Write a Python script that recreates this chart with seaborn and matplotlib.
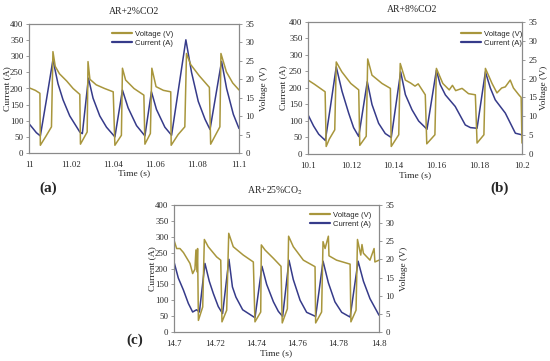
import matplotlib
matplotlib.use("Agg")
import matplotlib.pyplot as plt
import seaborn as sns
from matplotlib.lines import Line2D

# ---- panel (a): AR+2%CO2 ----
t_cur_a = [11.0, 11.0019, 11.0035, 11.0054, 11.0083, 11.0114, 11.0138, 11.0162, 11.0194, 11.0218,
           11.0242, 11.0254, 11.0283, 11.0305, 11.0337, 11.0369, 11.0409, 11.0445, 11.0472, 11.0512,
           11.0552, 11.0583, 11.0607, 11.0647, 11.0679, 11.0747, 11.0774, 11.0806, 11.0838, 11.0862,
           11.0917, 11.0941, 11.0973, 11.1]
cur_a = [91, 76, 63, 53, 165, 289, 215, 165, 115, 90,
         65, 60, 232, 170, 115, 80, 50, 195, 140, 85,
         53, 190, 135, 80, 55, 351, 250, 160, 105, 73,
         284, 200, 120, 76]
t_vol_a = [11.0, 11.003, 11.0052, 11.0054, 11.008, 11.0107, 11.0114, 11.0125, 11.0145, 11.018,
           11.021, 11.0242, 11.0245, 11.0277, 11.0281, 11.029, 11.032, 11.036, 11.0401, 11.0409,
           11.044, 11.0445, 11.046, 11.05, 11.0547, 11.0552, 11.0578, 11.0585, 11.0605, 11.064,
           11.0675, 11.0677, 11.071, 11.0742, 11.075, 11.077, 11.081, 11.0859, 11.0865, 11.0909,
           11.0914, 11.094, 11.097, 11.1]
vol_a = [17.7, 17.0, 16.2, 2.1, 4.5, 7.1, 27.5, 23.5, 21.5, 19.5,
         17.5, 15.9, 2.4, 5.7, 24.8, 20.0, 18.5, 17.5, 16.6, 2.1,
         4.8, 23.0, 19.8, 17.5, 15.7, 2.4, 5.3, 23.0, 18.0, 17.0,
         16.6, 2.1, 5.0, 7.1, 27.0, 24.0, 21.0, 17.8, 2.4, 7.1,
         27.0, 22.0, 19.0, 17.1]

# ---- panel (b): AR+8%CO2 ----
t_cur_b = [10.1, 10.1026, 10.105, 10.1081, 10.1104, 10.1132, 10.1159, 10.119, 10.1213, 10.1237,
           10.1277, 10.1299, 10.133, 10.1361, 10.1389, 10.1433, 10.1455, 10.1486, 10.1517, 10.1556,
           10.16, 10.1618, 10.1642, 10.1688, 10.1735, 10.1759, 10.179, 10.1829, 10.1852, 10.1875,
           10.1922, 10.1969, 10.2]
cur_b = [119, 85, 60, 41, 140, 264, 190, 124, 80, 53,
         219, 150, 93, 62, 50, 249, 180, 134, 100, 75,
         254, 210, 179, 144, 88, 80, 78, 249, 200, 164,
         124, 63, 58]
t_vol_b = [10.1, 10.103, 10.106, 10.108, 10.1085, 10.11, 10.1125, 10.1132, 10.1158, 10.12,
           10.1237, 10.1242, 10.1272, 10.1279, 10.1299, 10.1346, 10.1385, 10.1389, 10.1424, 10.1431,
           10.1455, 10.148, 10.15, 10.1515, 10.1548, 10.1555, 10.1593, 10.16, 10.163, 10.166,
           10.1675, 10.169, 10.172, 10.175, 10.1782, 10.179, 10.1822, 10.1829, 10.186, 10.1883,
           10.1905, 10.1922, 10.1945, 10.196, 10.1985, 10.1996, 10.2]
vol_b = [19.6, 18.5, 17.3, 16.5, 2.0, 4.0, 6.4, 24.4, 21.8, 18.7,
         17.0, 2.3, 4.7, 25.2, 20.9, 18.7, 17.4, 2.0, 5.1, 24.0,
         19.6, 18.8, 18.0, 18.6, 15.7, 2.7, 5.1, 22.7, 18.7, 17.0,
         18.2, 16.8, 17.4, 16.0, 15.7, 2.9, 5.1, 22.7, 18.7, 16.2,
         17.5, 17.8, 19.6, 17.5, 15.7, 15.0, 2.9]

# ---- panel (c): AR+25%CO2 ----
t_cur_c = [14.7, 14.7021, 14.7046, 14.707, 14.7091, 14.711, 14.7124, 14.7151, 14.7172, 14.7192,
           14.7216, 14.7237, 14.7268, 14.7285, 14.7302, 14.7335, 14.7395, 14.7429, 14.7452, 14.7485,
           14.7509, 14.753, 14.7561, 14.7582, 14.7615, 14.7647, 14.7691, 14.7727, 14.7753, 14.7785,
           14.7818, 14.7859, 14.7898, 14.7924, 14.7956, 14.8]
cur_c = [221, 170, 132, 90, 63, 70, 63, 216, 160, 121,
         80, 58, 229, 142, 110, 70, 45, 207, 150, 95,
         65, 49, 226, 165, 100, 62, 49, 223, 155, 95,
         62, 47, 223, 160, 105, 53]
t_vol_c = [14.7, 14.7013, 14.7029, 14.7046, 14.7078, 14.7091, 14.7102, 14.7107, 14.7112, 14.7115,
           14.7119, 14.714, 14.7148, 14.7167, 14.7208, 14.7228, 14.7234, 14.7257, 14.7267, 14.7289,
           14.7338, 14.7387, 14.7395, 14.7423, 14.7426, 14.7444, 14.7485, 14.7522, 14.7528, 14.7553,
           14.7559, 14.7582, 14.7631, 14.7688, 14.7691, 14.772, 14.7727, 14.7737, 14.7753, 14.7756,
           14.7793, 14.7859, 14.7863, 14.7888, 14.7895, 14.7911, 14.7917, 14.7924, 14.7956, 14.7976,
           14.798, 14.8]
vol_c = [25.3, 23.0, 23.0, 21.9, 18.9, 16.1, 17.3, 22.6, 16.6, 23.0,
         3.2, 6.9, 25.5, 23.5, 20.7, 19.8, 2.8, 6.0, 27.2, 23.5,
         21.2, 19.3, 2.8, 5.5, 24.0, 22.6, 20.3, 18.1, 2.5, 6.4,
         26.4, 23.5, 19.8, 18.0, 2.5, 5.5, 24.9, 23.0, 26.4, 21.0,
         19.8, 18.7, 2.8, 6.0, 25.5, 21.2, 24.1, 21.7, 19.8, 23.0,
         19.3, 19.8]

titles = ["AR+2%CO2", "AR+8%CO2", "AR+25%CO$_2$"]
panel_tags = ["(a)", "(b)", "(c)"]
xticks_a = [11.0, 11.02, 11.04, 11.06, 11.08, 11.1]
xticks_b = [10.1, 10.12, 10.14, 10.16, 10.18, 10.2]
xticks_c = [14.7, 14.72, 14.74, 14.76, 14.78, 14.8]
xticklabels_a = ["11", "11.02", "11.04", "11.06", "11.08", "11.1"]
xticklabels_b = ["10.1", "10.12", "10.14", "10.16", "10.18", "10.2"]
xticklabels_c = ["14.7", "14.72", "14.74", "14.76", "14.78", "14.8"]

VOLT_COLOR = "#A8963C"
CURR_COLOR = "#363B8A"
FRAME = "#8A8A8A"

sns.set_style("white")
plt.rcParams["font.family"] = ["Liberation Serif", "DejaVu Serif"]
plt.rcParams["mathtext.fontset"] = "stix"

fig = plt.figure(figsize=(5.5, 3.61), dpi=100)

W, H = 550.0, 361.0
# pixel boxes: left, right, top, bottom
boxes = [(29, 239, 24, 153), (308, 522, 22, 154), (174, 379, 205, 332)]
panels = [
    (t_cur_a, cur_a, t_vol_a, vol_a, xticks_a, xticklabels_a),
    (t_cur_b, cur_b, t_vol_b, vol_b, xticks_b, xticklabels_b),
    (t_cur_c, cur_c, t_vol_c, vol_c, xticks_c, xticklabels_c),
]
# legend top-left anchor (pixels), axis label positions
legend_pos = [(108, 27), (457, 27), (306, 208)]
title_pos = [(134, 11), (412, 9), (275, 191)]
xlabel_y = [173, 175, 353]
ylabel_left_x = [7, 283, 152]
ylabel_right_x = [264, 544, 404]
tag_pos = [(48, 188), (500, 188), (135, 340)]

for i, (tc, cc, tv, vv, xt, xtl) in enumerate(panels):
    l, r, t, b = boxes[i]
    ax = fig.add_axes([l / W, 1 - b / H, (r - l) / W, (b - t) / H])
    ax2 = ax.twinx()

    sns.lineplot(x=tc, y=cc, ax=ax, color=CURR_COLOR, linewidth=1.1, estimator=None)
    sns.lineplot(x=tv, y=vv, ax=ax2, color=VOLT_COLOR, linewidth=1.1, estimator=None)

    ax.set_xlim(xt[0], xt[-1])
    ax.set_ylim(0, 400)
    ax2.set_ylim(0, 35)
    ax.set_xticks(xt)
    ax.set_xticklabels(xtl)
    ax.set_yticks(range(0, 401, 50))
    ax2.set_yticks(range(0, 36, 5))
    ax.set_xlabel("")
    ax.set_ylabel("")
    ax2.set_ylabel("")

    for a in (ax, ax2):
        a.tick_params(labelsize=6.3, length=2, width=0.6, color=FRAME, direction="out")
        for s in a.spines.values():
            s.set_color(FRAME)
            s.set_linewidth(0.8)
    ax.tick_params(axis="y", pad=2)
    ax2.tick_params(axis="y", pad=2.5)
    ax.tick_params(axis="x", pad=4)

    handles = [Line2D([0], [0], color=VOLT_COLOR, lw=1.6),
               Line2D([0], [0], color=CURR_COLOR, lw=1.6)]
    lx, ly = legend_pos[i]
    ax2.legend(handles, ["Voltage (V)", "Current (A)"], loc="upper left",
               bbox_to_anchor=(lx / W, 1 - ly / H), bbox_transform=fig.transFigure,
               frameon=False, handlelength=2.6, handletextpad=0.4, labelspacing=0.15,
               borderpad=0, prop={"family": "Liberation Sans", "size": 5.5})

    tx, ty = title_pos[i]
    fig.text(tx / W, 1 - ty / H, titles[i], ha="center", va="center", fontsize=7)
    cx = (l + r) / 2.0
    fig.text(cx / W, 1 - xlabel_y[i] / H, "Time (s)", ha="center", va="center", fontsize=6.8)
    fig.text(ylabel_left_x[i] / W, 1 - ((t + b) / 2.0) / H, "Current (A)", rotation=90,
             ha="center", va="center", fontsize=6.8)
    fig.text(ylabel_right_x[i] / W, 1 - ((t + b) / 2.0) / H, "Voltage (V)", rotation=90,
             ha="center", va="center", fontsize=6.8)
    gx, gy = tag_pos[i]
    fig.text(gx / W, 1 - gy / H, panel_tags[i], ha="center", va="center",
             fontsize=11, fontweight="bold")

fig.savefig("out.png", dpi=100, facecolor="white")
